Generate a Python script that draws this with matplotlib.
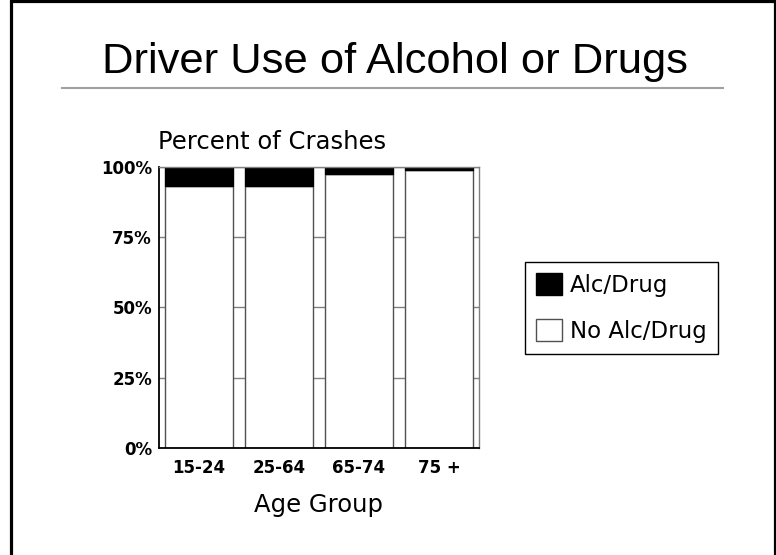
"""
Stacked bar chart: driver use of alcohol or drugs by age group.
"""

import numpy as np
import matplotlib.pyplot as plt
from matplotlib.patches import Rectangle, Patch
from matplotlib.lines import Line2D
from matplotlib.ticker import FuncFormatter

# data
age_groups = ['15-24', '25-64', '65-74', '75 +']
alc_drug = [6.8, 6.8, 2.6, 1.3]
no_alc_drug = [93.2, 93.2, 97.4, 98.7]
y_ticks = [0, 25, 50, 75, 100]

W, H = 776, 555
fig = plt.figure(figsize=(W / 100, H / 100), dpi=100)
plt.rcParams['font.family'] = ['DejaVu Sans']

# axes placed in pixel terms
ax = fig.add_axes([159 / W, 1 - 448 / H, (479 - 159) / W, (448 - 166.7) / H])

x = np.arange(len(age_groups))
ax.bar(x, no_alc_drug, width=0.85, color='white', edgecolor='#505050',
       linewidth=1, zorder=2)
ax.bar(x, alc_drug, width=0.85, bottom=no_alc_drug, color='black',
       edgecolor='black', linewidth=1, zorder=2)

ax.set_xlim(-0.5, len(age_groups) - 0.5)
ax.set_ylim(0, 100)
ax.set_xticks(x)
ax.set_xticklabels(age_groups, fontsize=12, fontweight='bold')
ax.set_yticks(y_ticks)
ax.yaxis.set_major_formatter(FuncFormatter(lambda v, p: f'{v:.0f}%'))
for lab in ax.get_yticklabels():
    lab.set_fontsize(12)
    lab.set_fontweight('bold')
ax.tick_params(axis='x', length=0, pad=8)
ax.tick_params(axis='y', length=0, pad=5)

ax.grid(axis='y', color='#808080', linewidth=1, zorder=0)
ax.set_axisbelow(True)
for side in ['top', 'right']:
    ax.spines[side].set_color('#808080')
    ax.spines[side].set_linewidth(1)
for side in ['left', 'bottom']:
    ax.spines[side].set_color('black')
    ax.spines[side].set_linewidth(1.3)

# titles and labels
fig.text(395 / W, 1 - 73 / H, 'Driver Use of Alcohol or Drugs',
         ha='center', va='baseline', fontsize=31.3, family='Liberation Sans')
fig.add_artist(Line2D([62 / W, 723 / W], [1 - 88 / H, 1 - 88 / H],
                      color='#a0a0a0', linewidth=1.5))
fig.text(158 / W, 1 - 149 / H, 'Percent of Crashes', ha='left',
         va='baseline', fontsize=17.5)
fig.text(319 / W, 1 - 512 / H, 'Age Group', ha='center', va='baseline',
         fontsize=17.5)

# legend
handles = [Patch(facecolor='black', edgecolor='black', label='Alc/Drug'),
           Patch(facecolor='white', edgecolor='#505050', label='No Alc/Drug')]
leg = fig.legend(handles=handles, loc='upper left',
                 bbox_to_anchor=(525 / W, 1 - 262 / H), borderaxespad=0,
                 fontsize=16.5, handlelength=1.1, handleheight=1.1,
                 handletextpad=0.36, labelspacing=0.95, borderpad=0.5,
                 fancybox=False, framealpha=1)
leg.get_frame().set_edgecolor('black')
leg.get_frame().set_linewidth(1)

# outer frame around the slide
fig.add_artist(Rectangle((10.5 / W, -0.1), (774.9 - 10.5) / W, 1.1 - 1.5 / H,
                         transform=fig.transFigure, fill=False,
                         edgecolor='black', linewidth=2.3))

fig.savefig('out.png', dpi=100)
